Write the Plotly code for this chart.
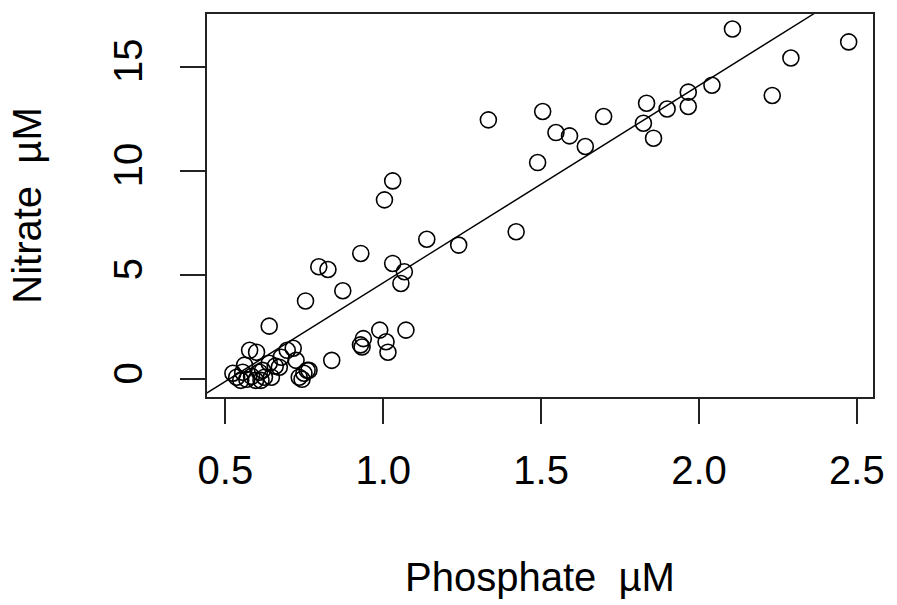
import plotly.graph_objects as go
import numpy as np

phosphate = [
    2.106, 2.474, 2.291, 2.232, 2.041, 1.966, 1.966, 1.899, 1.834, 1.824, 1.856,
    1.698, 1.505, 1.333, 1.547, 1.590, 1.640, 1.489, 1.421,
    1.030, 1.004, 1.138, 1.239, 0.929, 0.796, 0.825, 1.030, 1.067, 1.056, 0.872, 0.754,
    0.639, 0.837, 0.989, 1.072, 0.937, 0.928, 0.933, 1.009, 1.015,
    0.524, 0.536, 0.555, 0.568, 0.583, 0.596, 0.577, 0.599, 0.608, 0.618, 0.624,
    0.639, 0.646, 0.658, 0.671, 0.677, 0.696, 0.715, 0.724, 0.734, 0.749, 0.765,
    0.549, 0.613, 0.561, 0.743, 0.759,
]
nitrate = [
    16.81, 16.19, 15.42, 13.62, 14.11, 13.78, 13.09, 12.97, 13.25, 12.29, 11.57,
    12.61, 12.85, 12.45, 11.84, 11.68, 11.17, 10.40, 7.08,
    9.52, 8.61, 6.72, 6.44, 6.04, 5.40, 5.27, 5.56, 5.16, 4.60, 4.25, 3.76,
    2.55, 0.91, 2.36, 2.36, 1.95, 1.65, 1.55, 1.80, 1.30,
    0.29, 0.10, 0.34, 0.00, 0.14, -0.05, 1.39, 1.30, 0.34, 0.43, 0.10,
    0.77, 0.10, 0.63, 0.58, 1.06, 1.39, 1.49, 0.91, 0.10, 0.29, 0.43,
    -0.05, -0.05, 0.68, 0.00, 0.43,
]

# Fitted regression line (abline)
fit_intercept = -4.84
fit_slope = 9.47

x_ticks = [0.5, 1.0, 1.5, 2.0, 2.5]
x_tick_labels = ["0.5", "1.0", "1.5", "2.0", "2.5"]
y_ticks = [0, 5, 10, 15]
y_tick_labels = ["0", "5", "10", "15"]

FONT = "Liberation Sans, Arial, sans-serif"

fig = go.Figure()
fig.add_trace(go.Scatter(
    x=phosphate, y=nitrate, mode="markers",
    marker=dict(symbol="circle-open", size=16, color="#000000",
                line=dict(width=1.6, color="#000000")),
    cliponaxis=False, showlegend=False, hoverinfo="skip",
))
line_x = np.array([0.3, 2.7])
fig.add_trace(go.Scatter(
    x=line_x, y=fit_intercept + fit_slope * line_x, mode="lines",
    line=dict(color="#000000", width=1.4), showlegend=False, hoverinfo="skip",
))

axis_common = dict(
    showgrid=False, zeroline=False, showline=True, mirror=True,
    linecolor="#222222", linewidth=2,
    ticks="outside", ticklen=25, tickwidth=2, tickcolor="#222222",
    tickfont=dict(family=FONT, size=40, color="#000000"),
)

fig.update_layout(
    width=897, height=605,
    margin=dict(l=207, r=16, t=14, b=208),
    paper_bgcolor="white", plot_bgcolor="white",
    xaxis=dict(range=[0.442, 2.551], tickmode="array", tickvals=x_ticks,
               ticktext=x_tick_labels, ticklabelstandoff=12,
               title=dict(text="Phosphate\u00a0 µM", standoff=72,
                          font=dict(family=FONT, size=40, color="#000000")),
               **axis_common),
    yaxis=dict(range=[-0.85, 17.53], tickmode="array", tickvals=y_ticks,
               ticktext=y_tick_labels, tickangle=-90, ticklabelstandoff=22,
               title=dict(text="Nitrate\u00a0 µM", standoff=52,
                          font=dict(family=FONT, size=40, color="#000000")),
               **axis_common),
)

fig.write_html("out.html")
